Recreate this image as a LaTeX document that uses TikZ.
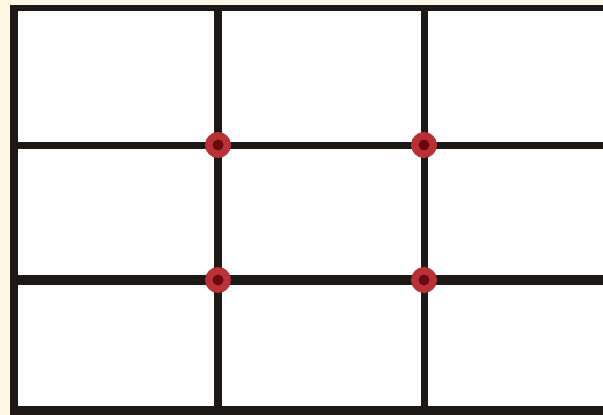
\documentclass[tikz,border=0pt]{standalone}
\definecolor{cream}{HTML}{FBF9E4}
\definecolor{gridblack}{HTML}{1C1816}
\definecolor{dotred}{HTML}{B83136}
\definecolor{dotdark}{HTML}{6A0A0E}
\tikzset{
  gridline/.style={draw=gridblack, line cap=butt},
  thirdpoint/.style={circle, fill=dotred, minimum size=26pt, inner sep=0pt},
  thirdcore/.style={circle, fill=dotdark, minimum size=11pt, inner sep=0pt}
}
\begin{document}
\begin{tikzpicture}[x=1pt,y=-1pt]
\useasboundingbox (0,0) rectangle (603,415);
\clip (0,0) rectangle (603,415);
\fill[cream] (0,0) rectangle (603,415);
\fill[white] (14,8) rectangle (610,420);
% frame
\draw[gridline, line width=6pt] (10,8) -- (610,8);
\draw[gridline, line width=8pt] (14,5) -- (14,420);
\draw[gridline, line width=9pt] (10,410) -- (610,410);
% grid lines
\draw[gridline, line width=7pt] (14,145.5) -- (610,145.5);
\draw[gridline, line width=10pt] (14,280) -- (610,280);
\draw[gridline, line width=8pt] (218,8) -- (218,410);
\draw[gridline, line width=7pt] (424.5,8) -- (424.5,410);
% points
\node[thirdpoint] (p1) at (218,145) {};
\node[thirdpoint] (p2) at (424,145) {};
\node[thirdpoint] (p3) at (218,280) {};
\node[thirdpoint] (p4) at (424,280) {};
\node[thirdcore] (c1) at (p1) {};
\node[thirdcore] (c2) at (p2) {};
\node[thirdcore] (c3) at (p3) {};
\node[thirdcore] (c4) at (p4) {};
\end{tikzpicture}
\end{document}
